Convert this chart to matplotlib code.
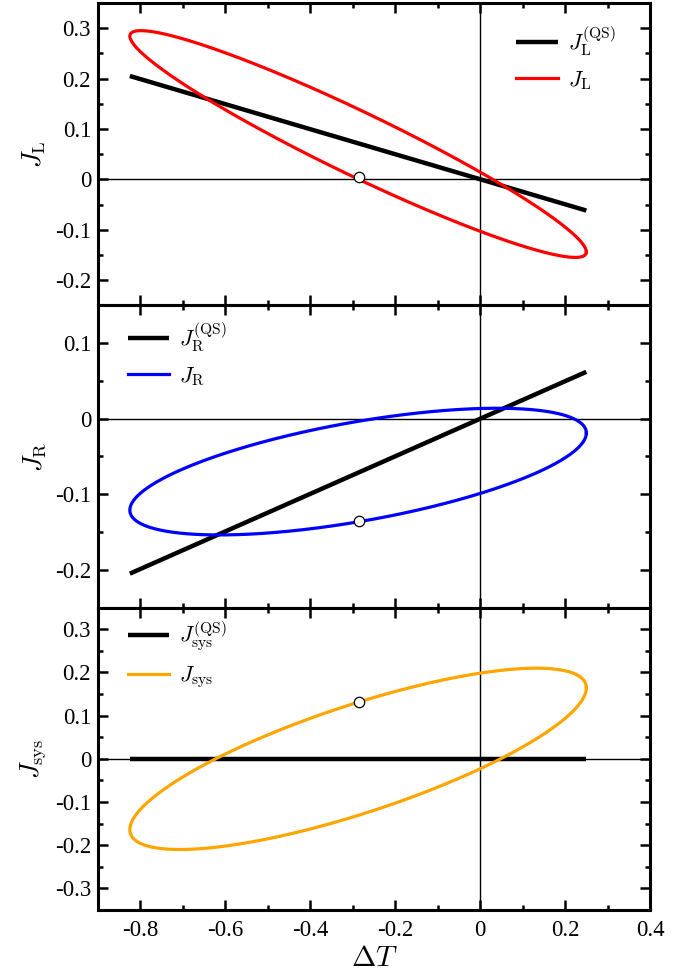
import numpy as np
import matplotlib.pyplot as plt
from matplotlib.ticker import MultipleLocator

plt.rcParams['font.family'] = ['Liberation Serif', 'DejaVu Serif']
plt.rcParams['mathtext.fontset'] = 'cm'
plt.rcParams['axes.unicode_minus'] = False

# temperature drive over one cycle: dT = dt_mid + dt_amp*cos(phase)
dt_mid = -0.2875
dt_amp = 0.5375

# quasi-static lines (end points)
qs_dT = [-0.825, 0.25]
qs_L = [0.205, -0.062]
qs_R = [-0.205, 0.062]
qs_sys = [0.0, 0.0]

# loops: J = offset + c*cos(phase) + s*sin(phase)
loop_L = [0.070, -0.214, 0.0695]
loop_R = [-0.070, 0.051, 0.0665]
loop_sys = [0.0, 0.164, -0.131]

# marked point on each loop
mark_dT = -0.285
mark_J = [0.005, -0.136, 0.131]

ylims = [(-0.25, 0.35), (-0.25, 0.15), (-0.35, 0.35)]
yticks = [[-0.2, -0.1, 0, 0.1, 0.2, 0.3],
          [-0.2, -0.1, 0, 0.1],
          [-0.3, -0.2, -0.1, 0, 0.1, 0.2, 0.3]]
xticks = [-0.8, -0.6, -0.4, -0.2, 0, 0.2, 0.4]

ylabels = [r'$J_{\rm L}$', r'$J_{\rm R}$', r'$J_{\rm sys}$']
qs_labels = [r'$J_{\rm L}^{\rm (QS)}$', r'$J_{\rm R}^{\rm (QS)}$', r'$J_{\rm sys}^{\rm (QS)}$']
loop_labels = [r'$J_{\rm L}$', r'$J_{\rm R}$', r'$J_{\rm sys}$']
colors = ['#ff0000', '#0000ff', '#ffa500']
leg_pos = [(0.758, 0.93), (0.054, 0.95), (0.054, 0.96)]


def fmt(v):
    if abs(v) < 1e-9:
        return '0'
    return '%.1f' % v


phase = np.linspace(0, 2 * np.pi, 600)
dT = dt_mid + dt_amp * np.cos(phase)

fig, axes = plt.subplots(3, 1, figsize=(6.93, 9.76), dpi=100, sharex=True)
fig.subplots_adjust(left=0.1414, right=0.938, top=0.997, bottom=0.0676, hspace=0)

qs_all = [qs_L, qs_R, qs_sys]
loops = [loop_L, loop_R, loop_sys]

for i, ax in enumerate(axes):
    ax.axhline(0, color='k', lw=1.0, zorder=1)
    ax.axvline(0, color='k', lw=1.0, zorder=1)
    ax.plot(qs_dT, qs_all[i], color='k', lw=3.2, solid_capstyle='butt',
            label=qs_labels[i], zorder=2)
    off, c, s = loops[i]
    J = off + c * np.cos(phase) + s * np.sin(phase)
    ax.plot(dT, J, color=colors[i], lw=2.3, label=loop_labels[i], zorder=3)
    ax.plot(mark_dT, mark_J[i], 'o', ms=7.5, mfc='white', mec='k', mew=0.9, zorder=4)

    ax.set_xlim(-0.9, 0.4)
    ax.set_ylim(*ylims[i])
    ax.set_yticks(yticks[i])
    ax.set_yticklabels([fmt(v) for v in yticks[i]])
    ax.yaxis.set_minor_locator(MultipleLocator(0.05))
    ax.xaxis.set_minor_locator(MultipleLocator(0.1))
    ax.set_xticks(xticks)
    ax.tick_params(which='both', direction='in', top=True, right=True,
                   labelsize=16.5, width=1.8)
    ax.tick_params(which='major', length=7, pad=5)
    ax.tick_params(which='minor', length=3.5)
    ax.tick_params(axis='x', which='major', pad=7)
    for sp in ax.spines.values():
        sp.set_linewidth(2.2)
    ax.set_ylabel(ylabels[i], fontsize=19, labelpad=5)
    ax.legend(loc='upper left', bbox_to_anchor=leg_pos[i], frameon=False,
              fontsize=16, handlelength=1.85, handletextpad=0.45,
              borderpad=0, borderaxespad=0, labelspacing=0.5)

axes[-1].set_xticklabels([fmt(v) for v in xticks])
axes[-1].set_xlabel(r'$\Delta T$', fontsize=21, labelpad=4)

fig.savefig('out.png', dpi=100)
